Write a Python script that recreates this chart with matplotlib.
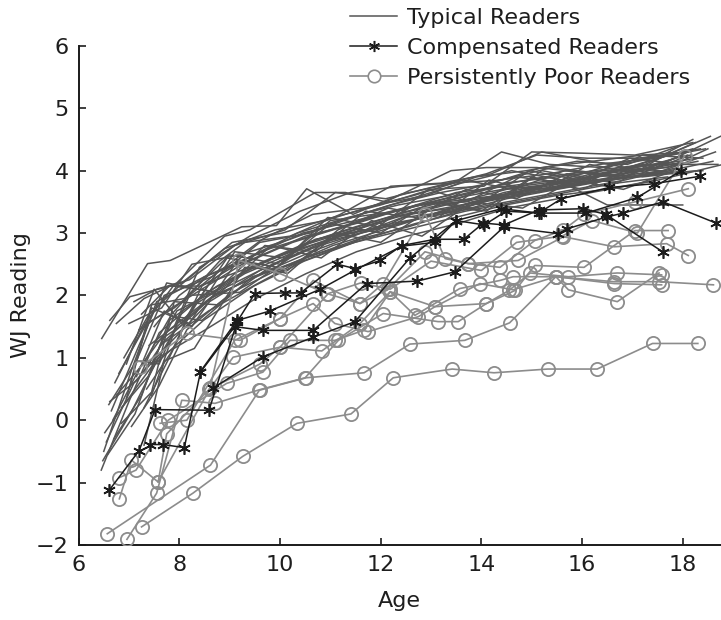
import matplotlib
matplotlib.use("Agg")
import matplotlib.pyplot as plt
from matplotlib.lines import Line2D

plt.rcParams['font.family'] = ['DejaVu Sans']

# ---------------- data ----------------
typical_ages = [
    [6.46,7.37,7.82,9.24,9.93,10.53,11.45,12.40,13.45,14.40,15.35,16.40,17.45,18.45],
    [6.62,7.02,8.05,9.05,10.05,11.05,12.00,13.00,14.05,15.00,16.00,17.05,18.20],
    [6.50,7.05,7.55,8.50,9.50,10.45,11.50,12.45,13.50,14.45,15.50,16.45,17.50,18.30],
    [6.45,7.00,7.60,8.55,9.55,10.55,11.50,12.55,13.55,14.50,15.55,16.50,17.55,18.55],
    [6.55,7.10,7.65,8.60,9.60,10.60,11.60,12.60,13.60,14.60,15.60,16.60,17.60,18.65],
    [6.60,7.15,7.70,8.65,9.65,10.65,11.65,12.65,13.65,14.65,15.65,16.65,17.70],
    [6.65,7.20,7.75,8.70,9.70,10.70,11.70,12.70,13.70,14.70,15.70,16.70,17.75],
    [6.70,7.25,7.80,8.75,9.75,10.75,11.75,12.75,13.75,14.75,15.75,16.75,17.80],
    [6.80,7.35,7.90,8.80,9.80,10.80,11.80,12.80,13.80,14.80,15.80,16.80,17.85],
    [6.90,7.40,8.00,8.90,9.90,10.90,11.90,12.90,13.90,14.90,15.90,16.90,17.95],
    [7.00,7.45,8.10,9.00,10.00,11.00,12.00,13.00,14.00,15.00,16.00,17.00,18.00],
    [7.10,7.55,8.20,9.10,10.10,11.10,12.10,13.10,14.10,15.10,16.10,17.10,18.10],
    [7.30,7.80,8.30,9.30,10.30,11.30,12.30,13.30,14.30,15.30,16.30,17.30,18.30],
    [7.40,7.90,8.40,9.40,10.40,11.40,12.40,13.40,14.40,15.40,16.40,17.40,18.10],
    [7.50,8.00,8.50,9.50,10.50,11.50,12.50,13.50,14.50,15.50,16.50,17.50,18.00],
    [6.58,7.12,7.62,8.58,9.58,10.50,11.55,12.55,13.55,14.50,15.50,16.55,17.55],
    [6.68,7.22,7.72,8.68,9.68,10.68,11.68,12.68,13.68,14.68,15.68,16.68,17.70],
    [6.75,7.28,7.85,8.80,9.30,10.20,11.20,12.20,13.20,14.20,15.20,16.20,17.20,18.00],
    [6.85,7.38,7.95,8.85,9.85,10.85,11.85,12.85,13.85,14.85,15.85,16.85,17.90],
    [6.95,7.50,8.05,8.95,9.95,10.95,11.95,12.95,13.95,14.95,15.95,16.95,18.00],
    [7.05,7.60,8.15,9.05,10.05,11.05,12.05,13.05,14.05,15.05,16.05,17.05,18.05],
    [7.15,7.70,8.25,9.15,10.15,11.15,12.15,13.15,14.15,15.15,16.15,17.15,18.15],
    [7.20,7.75,8.35,9.25,10.25,11.25,12.25,13.25,14.25,15.25,16.25,17.25,18.25],
    [7.35,7.85,8.45,9.35,10.35,11.35,12.35,13.35,14.35,15.35,16.35,17.35,18.35],
    [7.45,7.95,8.55,9.45,10.45,11.45,12.45,13.45,14.45,15.45,16.45,17.45,18.75],
    [6.52,7.08,7.58,8.52,9.52,10.52,11.52,12.52,13.52,14.52,15.52,16.52,17.52,18.80],
    [6.72,7.32,7.88,8.82,9.82,10.82,11.82,12.82,13.82,14.82,15.82,16.82,17.82],
    [7.25,7.80,8.40,9.40,10.40,11.40,12.40,13.40,14.40,15.40,16.40,17.40,18.40],
    [7.55,8.10,8.60,9.60,10.60,11.60,12.60,13.60,14.60,15.60,16.60,17.60,18.20],
    [6.48,7.06,7.52,8.48,9.48,10.48,11.48,12.48,13.48,14.48,15.48,16.48,17.48],
    [7.00,7.65,8.25,9.20,10.20,11.20,12.20,13.20,14.20,15.20,16.20,17.20,18.10],
    [6.62,7.18,7.68,8.62,9.62,10.62,11.62,12.62,13.62,14.62,15.62,16.62,17.62],
    [6.75,7.30,7.95,8.90,9.40,10.70,11.30,12.10,13.40,14.10,15.10,16.30,17.30,18.70],
    [7.30,7.70,8.30,9.30,10.15,11.10,12.00,13.20,14.10,15.20,16.20,17.20,18.40],
    [6.95,7.45,8.20,9.10,10.10,11.00,12.30,13.30,14.40,15.40,16.30,17.30,18.20],
    [7.15,7.60,8.20,9.20,10.20,11.20,12.20,13.20,14.20,15.20,16.20,17.20,18.30],
    [6.85,7.45,7.90,8.75,9.70,10.70,11.70,12.70,13.70,14.70,15.70,16.70,17.70,18.50],
    [7.45,8.00,8.45,9.45,10.45,11.45,12.45,13.45,14.45,15.45,16.45,17.45,18.60],
]
typical_vals = [
    [1.31,2.51,2.56,3.10,3.12,3.71,3.30,3.62,3.80,4.30,4.10,4.05,4.20,4.35],
    [1.60,1.98,2.20,2.85,3.00,3.25,3.45,3.70,3.75,4.30,4.28,4.25,4.45],
    [-0.50,0.80,1.90,2.30,2.65,3.00,3.20,3.40,3.55,3.80,3.90,4.00,4.10,4.20],
    [-0.80,0.30,1.40,2.05,2.50,2.85,3.10,3.35,3.50,3.70,3.80,3.95,4.20,4.55],
    [-0.35,0.60,1.10,1.90,2.40,2.75,3.00,3.30,3.45,3.65,3.75,3.85,4.00,4.30],
    [0.25,0.95,2.00,2.30,2.90,3.30,3.40,3.60,3.85,3.70,4.00,3.90,4.15],
    [0.15,1.20,2.20,2.05,2.80,2.70,3.35,3.25,3.70,3.55,3.95,3.80,4.30],
    [-0.30,0.40,1.60,2.15,2.55,2.90,3.15,3.40,3.60,3.75,3.85,3.95,4.10],
    [0.75,1.55,1.80,2.40,2.75,3.00,3.25,3.45,3.55,3.65,3.80,3.90,4.20],
    [1.00,1.70,2.15,2.75,3.05,3.20,3.45,3.60,3.90,4.00,4.15,4.10,4.40],
    [0.50,1.85,1.95,2.65,2.50,3.15,3.00,3.50,3.35,3.90,3.70,4.05,3.95],
    [1.90,2.10,2.25,2.80,3.05,3.65,3.55,3.75,3.95,4.25,4.20,4.20,4.30],
    [0.20,1.00,1.85,2.35,2.70,3.00,3.25,3.45,3.60,3.75,3.90,4.00,4.15],
    [1.20,1.50,2.45,2.95,3.35,3.65,3.75,3.80,3.85,4.05,3.95,4.10,4.25],
    [1.50,2.00,2.30,2.60,2.95,3.15,3.40,3.65,3.75,3.85,3.45,3.45,3.45],
    [-0.55,0.10,1.20,1.75,2.20,2.60,2.90,3.10,3.35,3.55,3.70,3.85,3.95],
    [0.00,0.85,1.40,2.00,2.35,2.65,2.90,3.15,3.35,3.50,3.65,3.80,3.90],
    [0.40,0.90,1.70,2.55,2.85,2.95,3.30,3.75,3.80,3.95,4.30,4.15,4.00,4.25],
    [0.20,0.70,1.50,2.10,2.50,2.85,3.05,3.25,3.40,3.55,3.70,3.85,4.05],
    [0.90,2.10,1.55,2.60,2.45,3.25,3.10,3.70,3.45,4.00,3.85,4.20,4.10],
    [-0.10,0.55,1.45,2.05,2.45,2.80,3.05,3.30,3.50,3.65,3.80,3.90,4.00],
    [0.70,1.75,1.50,2.55,2.35,3.05,3.40,3.25,3.85,3.65,4.10,3.95,4.25],
    [1.45,1.75,2.05,2.50,2.85,3.10,3.35,3.55,3.75,3.90,4.00,4.10,4.45],
    [0.50,1.10,2.15,2.60,3.00,3.25,3.45,3.60,3.85,3.95,4.10,4.20,4.35],
    [0.90,1.75,2.00,2.45,2.80,3.05,3.30,3.40,3.65,3.80,3.95,4.05,4.55],
    [-0.20,0.45,1.00,1.45,1.95,2.35,2.70,2.95,3.15,3.40,3.55,3.70,3.85,4.10],
    [0.60,1.55,2.15,2.05,2.80,2.60,3.20,2.95,3.50,3.40,3.85,3.70,4.00],
    [1.70,2.15,2.15,2.45,2.75,3.00,3.15,3.40,3.60,3.80,3.85,3.95,4.00],
    [1.25,1.55,2.20,2.85,3.00,3.30,3.55,3.80,4.00,3.85,4.10,4.25,4.50],
    [-0.65,0.15,0.90,1.60,2.15,2.55,2.85,3.05,3.25,3.45,3.60,3.70,3.85],
    [1.55,1.80,2.50,2.65,2.90,3.20,3.45,3.65,3.80,4.05,4.15,4.25,4.30],
    [0.30,0.65,1.25,1.95,2.35,2.70,3.00,3.20,3.45,3.60,3.75,3.90,4.00],
    [1.55,1.95,2.20,2.95,3.05,3.65,3.65,3.50,4.00,4.05,4.05,3.95,4.10,4.10],
    [-0.40,0.95,1.15,2.45,2.40,3.00,2.85,3.50,3.35,4.00,3.85,4.25,4.20],
    [0.35,1.80,1.55,2.70,2.60,3.20,3.35,3.55,3.75,3.70,3.90,4.15,4.35],
    [0.95,0.90,2.00,2.05,2.60,2.95,3.15,3.30,3.55,3.75,3.95,3.90,4.00],
    [-0.05,0.45,1.90,1.85,2.40,2.90,3.05,3.45,3.50,3.90,3.80,4.00,4.05,4.35],
    [0.40,1.65,1.60,2.30,2.55,2.85,3.25,3.35,3.60,3.70,3.85,3.95,4.15],
]

compensated_ages = [
    [6.61,7.20,7.52,8.59,9.15,9.50,10.09,10.41,11.14,11.49,11.99,12.42,13.08,13.65,14.04,14.45,15.14,16.02,16.47,17.60],
    [7.42,7.68,8.10,8.42,9.10,9.67,10.66,11.72,12.73,13.48,14.45,15.53,15.71,16.50,16.82,17.61,18.66],
    [8.66,9.67,10.66,11.49,12.58,13.50,14.40,15.14,15.59,16.54,17.43,18.34],
    [8.41,9.15,9.80,10.80,11.50,12.42,13.07,13.50,14.06,14.49,15.18,16.08,17.10,17.97],
]
compensated_vals = [
    [-1.12,-0.49,0.17,0.16,1.58,2.03,2.04,2.04,2.50,2.43,2.56,2.80,2.90,2.90,3.16,3.13,3.37,3.39,3.30,2.70],
    [-0.39,-0.39,-0.44,0.77,1.50,1.44,1.44,2.19,2.23,2.38,3.10,2.99,3.07,3.26,3.32,3.50,3.16],
    [0.51,1.02,1.33,1.58,2.60,3.20,3.39,3.32,3.55,3.73,3.79,3.91],
    [0.77,1.60,1.75,2.10,2.41,2.79,2.85,3.20,3.13,3.35,3.32,3.32,3.57,4.00],
]

poor_ages = [
    [7.25,8.27,9.26,10.34,11.41,12.25,13.42,14.25,15.32,16.30,17.40,18.30],
    [6.57,8.62,9.59,10.52,11.67,12.58,13.67,14.56,15.48,15.73,16.70,17.53],
    [6.96,7.55,8.05,8.71,9.60,10.50,11.16,12.05,13.14,13.54,14.10,14.67,15.06,16.04,17.05,17.71],
    [6.81,7.05,7.58,7.75,8.61,9.07,10.00,10.83,11.59,12.19,12.68,13.57,14.37,14.63,15.48,16.64,17.53,18.61],
    [7.58,8.61,9.19,10.00,10.93,11.59,12.05,12.88,13.28,13.74,14.73,15.63,16.64,17.68,18.11],
    [7.62,8.15,9.10,10.00,10.66,11.09,11.75,12.75,13.08,14.10,14.55,14.97,15.73,16.70,17.58],
    [6.81,7.14,7.78,8.94,9.66,10.20,11.09,11.66,12.19,13.08,13.97,14.63,15.48,16.64,17.58],
    [7.22,8.15,9.21,10.00,10.66,11.59,12.15,12.88,13.74,14.37,15.06,15.63,16.04,17.05,18.11],
    [8.60,9.60,10.00,10.96,11.60,12.19,13.00,14.00,14.70,15.60,16.20,17.10,18.04],
]
poor_vals = [
    [-1.71,-1.17,-0.58,-0.05,0.10,0.68,0.82,0.76,0.82,0.82,1.23,1.23],
    [-1.82,-0.72,0.48,0.68,0.76,1.22,1.28,1.56,2.30,2.09,1.90,2.36],
    [-1.91,-1.17,0.32,0.27,0.49,0.68,1.28,1.71,1.58,1.58,1.87,2.08,2.48,2.45,3.04,3.04],
    [-1.26,-0.64,-0.99,-0.22,0.51,1.01,1.17,1.11,1.55,2.06,1.68,2.11,2.24,2.30,2.30,2.22,2.22,2.17],
    [-0.99,0.51,2.56,2.35,2.03,1.87,2.19,3.31,2.59,2.51,2.56,2.94,2.78,2.83,2.64],
    [-0.05,0.00,1.28,1.63,1.87,1.55,1.42,1.66,1.82,1.87,2.08,2.36,2.30,2.36,2.33],
    [-0.92,-0.80,0.00,0.59,0.77,1.28,1.28,1.44,2.06,1.82,2.19,2.09,2.30,2.19,2.17],
    [0.85,1.39,1.28,1.63,2.24,1.87,2.10,2.70,2.51,2.45,2.88,3.05,3.30,3.50,3.71],
    [0.50,0.90,1.17,2.03,2.20,2.10,2.55,2.40,2.85,2.95,3.20,3.00,4.24],
]

x_ticks = [6, 8, 10, 12, 14, 16, 18]
y_ticks = [-2, -1, 0, 1, 2, 3, 4, 5, 6]
legend_labels = ["Typical Readers", "Compensated Readers", "Persistently Poor Readers"]

# ---------------- style ----------------
c_typ = '#555555'
c_comp = '#1c1c1c'
c_poor = '#8c8c8c'
c_text = '#1e1e1e'
star = (6, 2, 0)

fig = plt.figure(figsize=(7.21, 6.20), dpi=100)
ax = fig.add_axes([0.109, 0.121, 0.891, 0.805])

for a, v in zip(typical_ages, typical_vals):
    ax.plot(a, v, color=c_typ, lw=1.1, zorder=2)
for a, v in zip(poor_ages, poor_vals):
    ax.plot(a, v, color=c_poor, lw=1.2, marker='o', markersize=9.5,
            markerfacecolor='none', markeredgecolor=c_poor, markeredgewidth=1.3, zorder=3)
for a, v in zip(compensated_ages, compensated_vals):
    ax.plot(a, v, color=c_comp, lw=1.1, marker=star, markersize=9,
            markeredgecolor=c_comp, markeredgewidth=1.2, zorder=4)

ax.set_xlim(6, 18.76)
ax.set_ylim(-2, 6)
ax.set_xticks(x_ticks)
ax.set_yticks(y_ticks)
ax.spines['top'].set_visible(False)
ax.spines['right'].set_visible(False)
for s in ('left', 'bottom'):
    ax.spines[s].set_linewidth(1.4)
    ax.spines[s].set_color('#1a1a1a')
ax.tick_params(direction='in', length=5, width=1.2, labelsize=16, colors=c_text, pad=7)
ax.set_xlabel("Age", fontsize=16, color=c_text, labelpad=12)
ax.set_ylabel("WJ Reading", fontsize=16, color=c_text, labelpad=4)

handles = [
    Line2D([], [], color=c_typ, lw=1.1),
    Line2D([], [], color=c_comp, lw=1.1, marker=star, markersize=8, markeredgewidth=1.1),
    Line2D([], [], color=c_poor, lw=1.2, marker='o', markersize=9, markerfacecolor='white',
           markeredgecolor=c_poor, markeredgewidth=1.2),
]
fig.legend(handles, legend_labels, loc='upper left', bbox_to_anchor=(0.485, 0.987),
           frameon=False, fontsize=16, handlelength=2.15, handletextpad=0.45,
           labelspacing=0.45, borderpad=0, borderaxespad=0, labelcolor=c_text)

fig.savefig("out.png", dpi=100)
